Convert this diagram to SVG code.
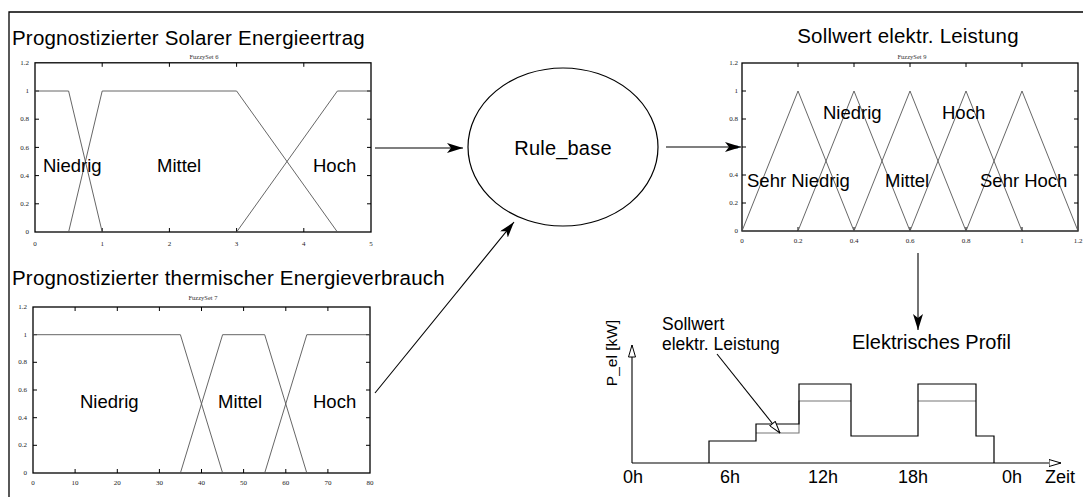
<svg xmlns="http://www.w3.org/2000/svg" width="1083" height="497" viewBox="0 0 1083 497">
  <style>
    .title { font-family: "Liberation Sans", Arial, sans-serif; font-size: 20.5px; letter-spacing: 0.2px; fill: #000; }
    .lbl { font-family: "Liberation Sans", Arial, sans-serif; font-size: 18.5px; fill: #000; }
    .small { font-family: "Liberation Serif", "Times New Roman", serif; font-size: 6.5px; fill: #333; }
    .tick { font-family: "Liberation Serif", "Times New Roman", serif; font-size: 7px; fill: #222; }
    .axes { fill: none; stroke: #000; stroke-width: 1.3; }
    .ticks { fill: none; stroke: #000; stroke-width: 1; }
    .mf { fill: none; stroke: #555; stroke-width: 0.9; }
    .conn { fill: none; stroke: #000; stroke-width: 1.1; }
    .step { fill: none; stroke: #000; stroke-width: 1.2; }
    .stepg { fill: none; stroke: #777; stroke-width: 1.1; }
  </style>
  <defs>
    <marker id="arrow" viewBox="0 0 16 10" refX="16" refY="5" markerWidth="16" markerHeight="10" markerUnits="userSpaceOnUse" orient="auto">
      <path d="M0,0 L16,5 L0,10 L4,5 z" fill="#000"/>
    </marker>
    <marker id="open" viewBox="0 0 13 8" refX="12.5" refY="4" markerWidth="13" markerHeight="8" markerUnits="userSpaceOnUse" orient="auto">
      <path d="M0.5,0.5 L12.5,4 L0.5,7.5 z" fill="#fff" stroke="#000" stroke-width="1"/>
    </marker>
  </defs>

  <rect width="1083" height="497" fill="#fff"/>
  <!-- outer frame -->
  <path d="M9,497 V12 H1083" fill="none" stroke="#000" stroke-width="1.3"/>

  <!-- input 1: solar yield fuzzy set -->
  <g id="solar">
    <text class="title" x="12" y="45">Prognostizierter Solarer Energieertrag</text>
    <text class="small" x="204" y="59" text-anchor="middle">FuzzySet 6</text>
    <rect class="axes" x="35" y="62.8" width="336" height="169.2"/>
    <path class="ticks" d="M102.2,232v-4M169.4,232v-4M236.6,232v-4M303.8,232v-4
      M102.2,62.8v4M169.4,62.8v4M236.6,62.8v4M303.8,62.8v4
      M35,203.8h4M35,175.6h4M35,147.4h4M35,119.2h4M35,91h4
      M371,203.8h-4M371,175.6h-4M371,147.4h-4M371,119.2h-4M371,91h-4"/>
    <g class="tick" text-anchor="end">
      <text x="29" y="65">1.2</text><text x="29" y="93">1</text><text x="29" y="121">0.8</text>
      <text x="29" y="150">0.6</text><text x="29" y="178">0.4</text><text x="29" y="206">0.2</text><text x="29" y="234">0</text>
    </g>
    <g class="tick" text-anchor="middle">
      <text x="35" y="246">0</text><text x="102.2" y="246">1</text><text x="169.4" y="246">2</text>
      <text x="236.6" y="246">3</text><text x="303.8" y="246">4</text><text x="371" y="246">5</text>
    </g>
    <path class="mf" d="M35,91 H68.6 L102.2,232"/>
    <path class="mf" d="M68.6,232 L102.2,91 H236.6 L337.4,232"/>
    <path class="mf" d="M236.6,232 L337.4,91 H371"/>
    <text class="lbl" x="43" y="172">Niedrig</text>
    <text class="lbl" x="157" y="172">Mittel</text>
    <text class="lbl" x="313" y="172">Hoch</text>
  </g>

  <!-- input 2: thermal consumption fuzzy set -->
  <g id="thermal">
    <text class="title" x="12" y="285">Prognostizierter thermischer Energieverbrauch</text>
    <text class="small" x="203" y="300" text-anchor="middle">FuzzySet 7</text>
    <rect class="axes" x="33" y="307" width="337" height="166"/>
    <path class="ticks" d="M75.1,473v-4M117.3,473v-4M159.4,473v-4M201.5,473v-4M243.6,473v-4M285.8,473v-4M327.9,473v-4
      M75.1,307v4M117.3,307v4M159.4,307v4M201.5,307v4M243.6,307v4M285.8,307v4M327.9,307v4
      M33,445.3h4M33,417.7h4M33,390h4M33,362.3h4M33,334.7h4
      M370,445.3h-4M370,417.7h-4M370,390h-4M370,362.3h-4M370,334.7h-4"/>
    <g class="tick" text-anchor="end">
      <text x="27" y="309">1.2</text><text x="27" y="337">1</text><text x="27" y="364">0.8</text>
      <text x="27" y="392">0.6</text><text x="27" y="420">0.4</text><text x="27" y="447">0.2</text><text x="27" y="475">0</text>
    </g>
    <g class="tick" text-anchor="middle">
      <text x="33" y="485">0</text><text x="75.1" y="485">10</text><text x="117.3" y="485">20</text>
      <text x="159.4" y="485">30</text><text x="201.5" y="485">40</text><text x="243.6" y="485">50</text>
      <text x="285.8" y="485">60</text><text x="327.9" y="485">70</text><text x="370" y="485">80</text>
    </g>
    <path class="mf" d="M33,334.7 H180.4 L222.6,473"/>
    <path class="mf" d="M180.4,473 L222.6,334.7 H264.7 L306.8,473"/>
    <path class="mf" d="M264.7,473 L306.8,334.7 H370"/>
    <text class="lbl" x="80" y="408">Niedrig</text>
    <text class="lbl" x="218" y="408">Mittel</text>
    <text class="lbl" x="313" y="408">Hoch</text>
  </g>

  <!-- rule base -->
  <g id="rule_base">
    <ellipse cx="563" cy="147" rx="95" ry="79" fill="#fff" stroke="#000" stroke-width="1.2"/>
    <text class="title" x="563" y="155" text-anchor="middle" style="font-size:20px">Rule_base</text>
  </g>

  <!-- output: power setpoint fuzzy set -->
  <g id="setpoint">
    <text class="title" x="908" y="43" text-anchor="middle">Sollwert elektr. Leistung</text>
    <text class="small" x="912" y="59" text-anchor="middle">FuzzySet 9</text>
    <rect class="axes" x="742" y="63" width="336" height="168"/>
    <path class="ticks" d="M798,231v-4M854,231v-4M910,231v-4M966,231v-4M1022,231v-4
      M798,63v4M854,63v4M910,63v4M966,63v4M1022,63v4
      M742,203h4M742,175h4M742,147h4M742,119h4M742,91h4
      M1078,203h-4M1078,175h-4M1078,147h-4M1078,119h-4M1078,91h-4"/>
    <g class="tick" text-anchor="end">
      <text x="738" y="65">1.2</text><text x="738" y="93">1</text><text x="738" y="121">0.8</text>
      <text x="738" y="149">0.6</text><text x="738" y="177">0.4</text><text x="738" y="205">0.2</text><text x="738" y="233">0</text>
    </g>
    <g class="tick" text-anchor="middle">
      <text x="742" y="243">0</text><text x="798" y="243">0.2</text><text x="854" y="243">0.4</text>
      <text x="910" y="243">0.6</text><text x="966" y="243">0.8</text><text x="1022" y="243">1</text><text x="1078" y="243">1.2</text>
    </g>
    <path class="mf" d="M742,231 L798,91 L854,231"/>
    <path class="mf" d="M798,231 L854,91 L910,231"/>
    <path class="mf" d="M854,231 L910,91 L966,231"/>
    <path class="mf" d="M910,231 L966,91 L1022,231"/>
    <path class="mf" d="M966,231 L1022,91 L1078,231"/>
    <text class="lbl" x="823" y="119">Niedrig</text>
    <text class="lbl" x="942" y="119">Hoch</text>
    <text class="lbl" x="747" y="187">Sehr Niedrig</text>
    <text class="lbl" x="885" y="187">Mittel</text>
    <text class="lbl" x="980" y="187">Sehr Hoch</text>
  </g>

  <!-- electrical load profile -->
  <g id="profile">
    <text class="title" x="852" y="349" style="font-size:20px;letter-spacing:0">Elektrisches Profil</text>
    <path class="conn" d="M632,463 H1061" marker-end="url(#open)"/>
    <path class="conn" d="M632,463 V345" marker-end="url(#open)"/>
    <text class="lbl" transform="translate(617,353) rotate(-90)" text-anchor="middle" style="font-size:15.5px">P_el [kW]</text>
    <path class="stepg" d="M756,433 H799 V401 H851 M918,401 H976"/>
    <path class="step" d="M709,463 V441 H756 V424 H799 V384 H851 V436 H918 V384 H976 V436 H994 V463"/>
    <text class="lbl" x="662" y="330" style="font-size:17.5px">Sollwert</text>
    <text class="lbl" x="662" y="349.5" style="font-size:17.5px">elektr. Leistung</text>
    <path class="conn" d="M717,354 L780,433" stroke-width="0.9" marker-end="url(#open)"/>
    <g class="lbl" style="font-size:18px">
      <text x="623" y="483">0h</text><text x="720" y="483">6h</text><text x="808" y="483">12h</text>
      <text x="898" y="483">18h</text><text x="1002" y="483">0h</text><text x="1045" y="483">Zeit</text>
    </g>
  </g>

  <!-- connectors -->
  <g id="connectors">
    <path class="conn" d="M375,148 H463" marker-end="url(#arrow)"/>
    <path class="conn" d="M375,393 L514,222" marker-end="url(#arrow)"/>
    <path class="conn" d="M666,147 H741" marker-end="url(#arrow)"/>
    <path class="conn" d="M918,253 V330" marker-end="url(#arrow)"/>
  </g>
</svg>
